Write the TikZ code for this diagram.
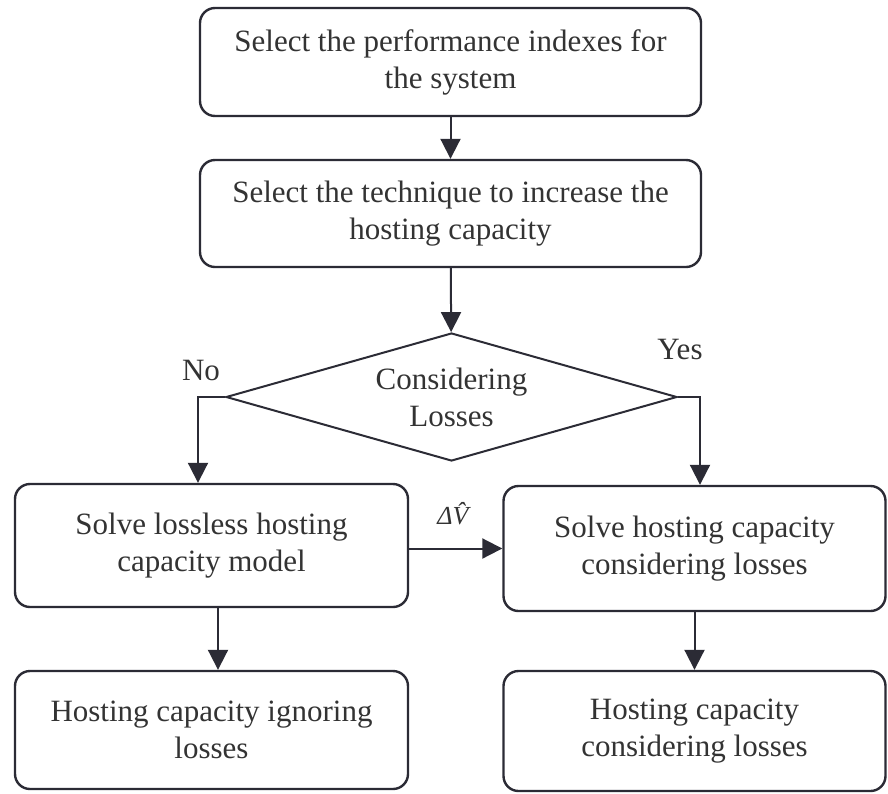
\documentclass[tikz,border=0pt]{standalone}
\usepackage{fontspec}
\setmainfont{LiberationSerif}[Extension=.ttf, UprightFont=*-Regular, ItalicFont=*-Italic, BoldFont=*-Bold]
\usetikzlibrary{shapes.geometric,arrows.meta}
\definecolor{edge}{HTML}{2B2B35}
\definecolor{txt}{HTML}{333333}
\begin{document}
\begin{tikzpicture}[x=1pt,y=1pt,
  every node/.style={text=txt, font=\rmfamily\fontsize{31}{37}\selectfont},
  box/.style={draw=edge, line width=2.4pt, rounded corners=15pt, align=center, inner sep=0pt},
  dia/.style={diamond, draw=edge, line width=2pt, aspect=3.48, inner sep=0pt, align=center,
              minimum width=451pt, minimum height=128pt},
  arr/.style={draw=edge, line width=2pt, -{Triangle[length=20pt,width=20pt]}},
  lbl/.style={inner sep=0pt}
]
\useasboundingbox (0,0) rectangle (888,-793);
\node[box, minimum width=501pt, minimum height=108pt] (b1) at (450.5,-62) {Select the performance indexes for\\the system};
\node[box, minimum width=501pt, minimum height=107pt] (b2) at (450.5,-213.5) {Select the technique to increase the\\hosting capacity};
\node[dia] (d) at (451.5,-397) {Considering\\Losses};
\node[box, minimum width=393pt, minimum height=123pt] (b3) at (211.5,-545.5) {Solve lossless hosting\\capacity model};
\node[box, minimum width=382pt, minimum height=125pt] (b4) at (694.5,-548.5) {Solve hosting capacity\\considering losses};
\node[box, minimum width=393pt, minimum height=118pt] (b5) at (211.5,-730) {Hosting capacity ignoring\\losses};
\node[box, minimum width=382pt, minimum height=120pt] (b6) at (694.5,-731) {Hosting capacity\\considering losses};
\node[lbl] (no) at (201,-370) {No};
\node[lbl] (yes) at (680,-349) {Yes};
\node[lbl, font=\rmfamily\itshape\fontsize{26}{30}\selectfont] (dv) at (453,-514) {Δ\^{V}};
\draw[arr] (b1) -- (b2);
\draw[arr] (b2) -- (d);
\draw[arr] (d.west) -| ([xshift=-13.5pt]b3.north);
\draw[arr] (d.east) -| ([xshift=5.5pt]b4.north);
\draw[arr] (b3.east |- b4.west) -- (b4.west);
\draw[arr] ([xshift=6.5pt]b3.south) -- ([xshift=6.5pt]b5.north);
\draw[arr] (b4.south) -- (b6.north);
\end{tikzpicture}
\end{document}
